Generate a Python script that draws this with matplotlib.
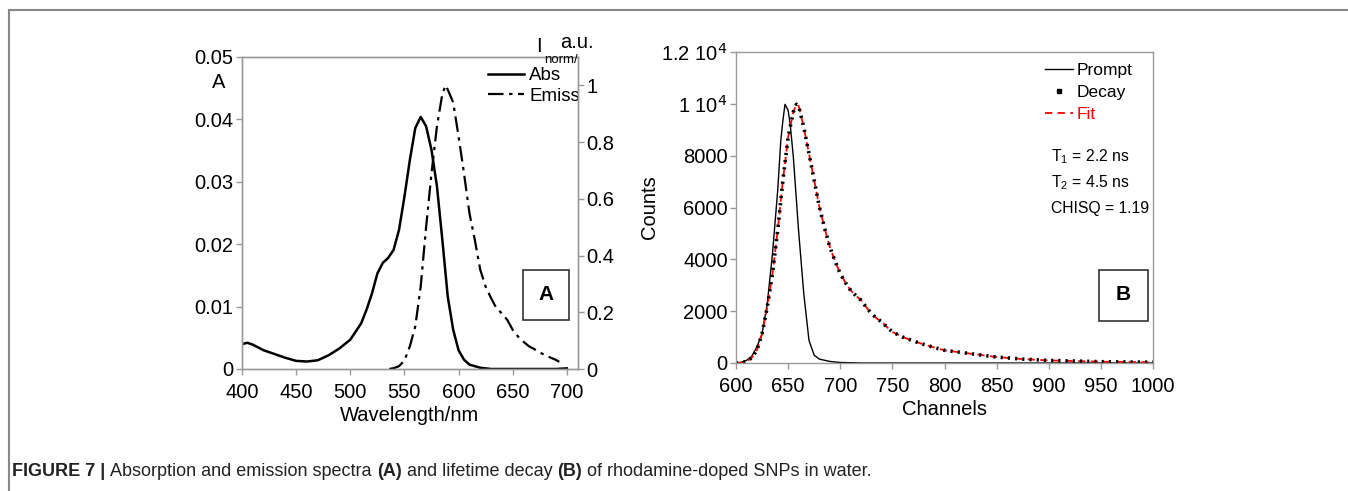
import matplotlib.pyplot as plt
from matplotlib.lines import Line2D
from matplotlib.patches import Rectangle

plt.rcParams["font.family"] = ["Liberation Sans", "DejaVu Sans"]

# ---- Panel A: absorption (A) and normalised emission ----
abs_wl = [400, 405, 410, 420, 430, 440, 450, 460, 470, 480, 490, 500, 510, 515,
          520, 525, 530, 535, 540, 545, 550, 555, 560, 565, 570, 575, 580, 585,
          590, 595, 600, 605, 610, 620, 630, 635, 657, 670, 680, 690, 700]
abs_val = [0.0040, 0.0042, 0.0039, 0.0030, 0.0024, 0.0018, 0.0013, 0.0012, 0.0014,
           0.0022, 0.0033, 0.0047, 0.0073, 0.0095, 0.0121, 0.0153, 0.0170, 0.0178,
           0.0191, 0.0223, 0.0276, 0.0335, 0.0386, 0.0404, 0.0389, 0.0351, 0.0293,
           0.0207, 0.0116, 0.0063, 0.0030, 0.0015, 0.0007, 0.0002, 0.0, 0.0,
           0.0, 0.0, 0.0, 0.0, 0.0001]
emi_wl = [536, 540, 545, 550, 555, 560, 565, 570, 575, 580, 585, 588, 590, 595,
          600, 605, 610, 615, 620, 625, 630, 635, 640, 645, 650, 655, 660, 665,
          670, 675, 680, 685, 690, 693]
emi_val = [0.0, 0.003, 0.01, 0.03, 0.08, 0.15, 0.29, 0.50, 0.69, 0.855, 0.97, 1.0,
           0.985, 0.94, 0.82, 0.69, 0.55, 0.455, 0.35, 0.29, 0.25, 0.214, 0.196,
           0.173, 0.138, 0.114, 0.096, 0.080, 0.070, 0.058, 0.049, 0.040, 0.032,
           0.025]

# ---- Panel B: lifetime decay ----
prompt_ch = [600, 605, 610, 615, 620, 625, 630, 635, 640, 643, 645, 647, 650, 652,
             655, 660, 665, 670, 675, 680, 690, 700, 720, 800, 900, 1000]
prompt_ct = [0, 30, 100, 250, 620, 1130, 2290, 4220, 6660, 8600, 9360, 9980, 9750,
             9200, 7950, 5120, 2680, 875, 300, 150, 60, 20, 0, 0, 0, 0]
decay_ch = [600, 605, 610, 615, 620, 625, 630, 635, 640, 645, 650, 655, 658, 660,
            665, 670, 675, 680, 685, 690, 695, 700, 705, 710, 715, 720, 725, 730,
            735, 740, 745, 750, 760, 770, 780, 790, 800, 825, 850, 875, 900, 925,
            950, 975, 1000]
decay_ct = [0, 10, 50, 200, 490, 1130, 2160, 3450, 5120, 7050, 8720, 9690, 9980,
            9940, 9100, 8080, 7050, 6020, 5200, 4480, 3930, 3450, 3100, 2800, 2600,
            2420, 2150, 1900, 1720, 1580, 1380, 1200, 1000, 850, 720, 600, 490, 360,
            230, 150, 100, 75, 50, 40, 30]
fit_ch = decay_ch
fit_ct = decay_ct

fig = plt.figure(figsize=(13.48, 4.91), dpi=100)
W, H = 1348, 491

# figure frame (grey lines on top and left)
fig.add_artist(Line2D([9 / W, 1], [1 - 10 / H, 1 - 10 / H], color="#888888", lw=1.5))
fig.add_artist(Line2D([9 / W, 9 / W], [0, 1 - 10 / H], color="#888888", lw=1.5))

FS = 14.5
SPINE = "#9a9a9a"

# panel boxes in pixels: left, right, top, bottom
AL, AR, AT, AB = 242, 577.7, 57, 369
BL, BR, BT, BB = 736, 1153, 52, 363

# ---------------- Panel A ----------------
ax = fig.add_axes([AL / W, 1 - AB / H, (AR - AL) / W, (AB - AT) / H])
ax.plot(abs_wl, abs_val, color="black", lw=1.8)
ax.set_xlim(400, 710)
ax.set_ylim(0, 0.05)
ax.set_xticks([400, 450, 500, 550, 600, 650, 700])
ax.set_yticks([0, 0.01, 0.02, 0.03, 0.04, 0.05])
ax.set_yticklabels(["0", "0.01", "0.02", "0.03", "0.04", "0.05"])
ax.set_xlabel("Wavelength/nm", fontsize=FS, labelpad=3)

ax2 = ax.twinx()
ax2.plot(emi_wl, emi_val, color="black", lw=1.6, dashes=(7, 2.5, 1.5, 2.5))
ax2.set_ylim(0, 1.1)
ax2.set_yticks([0, 0.2, 0.4, 0.6, 0.8, 1.0])
ax2.set_yticklabels(["0", "0.2", "0.4", "0.6", "0.8", "1"])

for a in (ax, ax2):
    for s in a.spines.values():
        s.set_color(SPINE)
        s.set_linewidth(1.0)
    a.tick_params(labelsize=FS, length=4, width=1, color=SPINE, pad=2)
ax.tick_params(axis="x", pad=6)

fig.text(219 / W, 1 - 83 / H, "A", fontsize=FS, ha="center", va="center")
fig.text(539 / W, 1 - 46 / H, "I", fontsize=FS, ha="center", va="center")
fig.text(544 / W, 1 - 60 / H, "norm/", fontsize=9.5, ha="left", va="center")
fig.text(560 / W, 1 - 42 / H, "a.u.", fontsize=FS, ha="left", va="center")

handles = [Line2D([], [], color="black", lw=1.8),
           Line2D([], [], color="black", lw=1.6, dashes=(7, 2.5, 1.5, 2.5))]
ax.legend(handles, ["Abs", "Emiss"], loc="upper left",
          bbox_to_anchor=((488 - AL) / (AR - AL), 1 - (67 - AT) / (AB - AT)),
          frameon=False, fontsize=13.5, handlelength=1.9, handletextpad=0.3,
          labelspacing=0.2, borderaxespad=0, borderpad=0)

ax.add_patch(Rectangle(((522.7 - AL) / (AR - AL), (AB - 320) / (AB - AT)),
                       46.5 / (AR - AL), 50 / (AB - AT), transform=ax.transAxes,
                       fill=False, ec="#333333", lw=1.2, zorder=5))
ax.text((545.8 - AL) / (AR - AL), (AB - 295) / (AB - AT), "A",
        transform=ax.transAxes, fontsize=15, weight="bold", ha="center", va="center")

# ---------------- Panel B ----------------
bx = fig.add_axes([BL / W, 1 - BB / H, (BR - BL) / W, (BB - BT) / H])
bx.plot(prompt_ch, prompt_ct, color="black", lw=1.0)
bx.plot(fit_ch, fit_ct, color="red", lw=1.3, dashes=(4, 3))
bx.plot(decay_ch, decay_ct, color="black", lw=2.6, dashes=(0.6, 1.4))
bx.set_xlim(600, 1000)
bx.set_ylim(0, 12000)
bx.set_xticks(range(600, 1001, 50))
bx.set_yticks([0, 2000, 4000, 6000, 8000, 10000, 12000])
bx.set_yticklabels(["0", "2000", "4000", "6000", "8000", r"1 10$^{4}$", r"1.2 10$^{4}$"])
bx.set_xlabel("Channels", fontsize=FS, labelpad=3)
bx.set_ylabel("Counts", fontsize=FS, labelpad=2)
for s in bx.spines.values():
    s.set_color(SPINE)
    s.set_linewidth(1.0)
bx.tick_params(labelsize=FS, length=4, width=1, color=SPINE, pad=2)
bx.tick_params(axis="x", pad=6)

handles_b = [Line2D([], [], color="black", lw=1.0),
             Line2D([], [], color="black", ls="none", marker="s", ms=2.5),
             Line2D([], [], color="red", lw=1.3, dashes=(4, 3))]
bx.legend(handles_b, ["Prompt", "Decay", "Fit"], loc="upper left",
          bbox_to_anchor=((1045 - BL) / (BR - BL), 1 - (63 - BT) / (BB - BT)),
          frameon=False, fontsize=12.5, handlelength=1.6, handletextpad=0.2,
          labelspacing=0.4, borderaxespad=0, borderpad=0,
          labelcolor=["black", "black", "red"])

for yy, txt in [(157, r"T$_{\mathregular{1}}$ = 2.2 ns"), (183, r"T$_{\mathregular{2}}$ = 4.5 ns"),
                (208, "CHISQ = 1.19")]:
    fig.text(1051 / W, 1 - yy / H, txt, fontsize=11.3, ha="left", va="center")

bx.add_patch(Rectangle(((1099 - BL) / (BR - BL), (BB - 320.7) / (BB - BT)),
                       49 / (BR - BL), 50.7 / (BB - BT), transform=bx.transAxes,
                       fill=False, ec="#333333", lw=1.2, zorder=5))
bx.text((1123.5 - BL) / (BR - BL), (BB - 295) / (BB - BT), "B",
        transform=bx.transAxes, fontsize=15, weight="bold", ha="center", va="center")

# ---------------- caption ----------------
parts = [("FIGURE 7 | ", "bold"), ("Absorption and emission spectra ", "normal"),
         ("(A)", "bold"), (" and lifetime decay ", "normal"), ("(B)", "bold"),
         (" of rhodamine-doped SNPs in water.", "normal")]
x = 12 / W
renderer = fig.canvas.get_renderer()
for txt, wt in parts:
    t = fig.text(x, 1 - 472 / H, txt, fontsize=13, weight=wt, ha="left",
                 va="center", color="#222222")
    bb = t.get_window_extent(renderer=renderer)
    x += bb.width / W

fig.savefig("out.png", dpi=100)
